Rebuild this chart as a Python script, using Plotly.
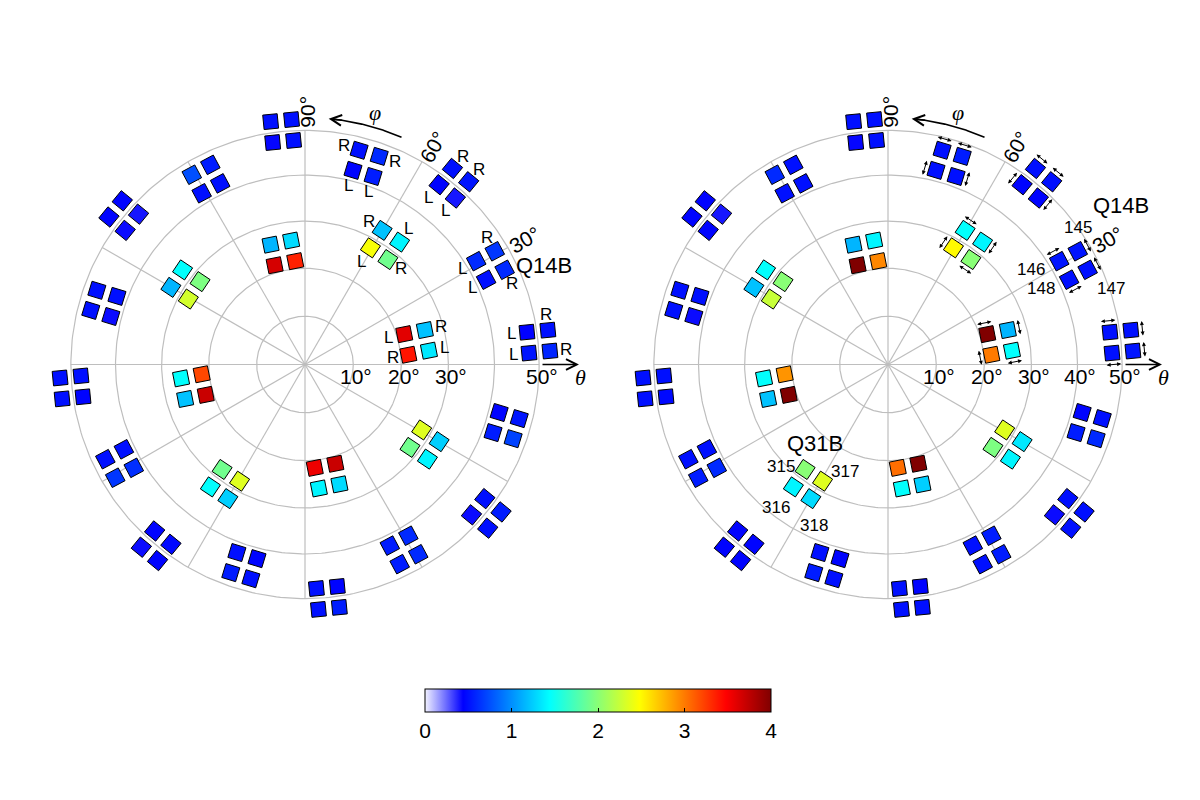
import numpy as np
import pandas as pd
import plotly.graph_objects as go

# ---------------- data ----------------
# module positions: polar angle theta and azimuth phi (degrees)
outer_phi = [5.6, 28.1, 50.6, 73.1, 95.6, 118.1, 140.6, 163.1,
             185.6, 208.1, 230.6, 253.1, 275.6, 298.1, 320.6, 343.1]
outer_theta = [50.1, 44.6, 50.1, 44.6, 50.1, 44.6, 50.1, 44.6,
               50.1, 44.6, 50.1, 44.6, 50.1, 44.6, 50.1, 44.6]
inner_phi = [11.2, 56.2, 101.2, 146.2, 191.2, 236.2, 281.2, 326.2]
inner_theta = [23.7, 30.1, 23.7, 30.1, 23.7, 30.1, 23.7, 30.1]

# square values per module, order: TL, TR, BL, BR
left_outer = [
    [0.44, 0.50, 0.52, 0.58], [0.60, 0.65, 0.50, 0.60], [0.50, 0.52, 0.45, 0.40], [0.50, 0.60, 0.45, 0.55],
    [0.50, 0.50, 0.43, 0.50], [0.75, 0.55, 0.50, 0.50], [0.45, 0.40, 0.45, 0.42], [0.50, 0.50, 0.50, 0.42],
    [0.50, 0.50, 0.50, 0.45], [0.50, 0.50, 0.65, 0.62], [0.45, 0.47, 0.42, 0.45], [0.50, 0.45, 0.55, 0.50],
    [0.50, 0.45, 0.50, 0.55], [0.55, 0.60, 0.55, 0.60], [0.50, 0.55, 0.42, 0.50], [0.45, 0.52, 0.55, 0.70],
]
left_inner = [
    [3.60, 1.20, 3.40, 1.35], [1.20, 1.40, 2.45, 1.90], [1.15, 1.30, 3.65, 3.35], [1.45, 1.95, 1.15, 2.30],
    [1.45, 3.20, 1.20, 3.70], [1.90, 2.35, 1.45, 1.25], [3.55, 3.70, 1.40, 1.30], [2.35, 1.25, 1.90, 1.40],
]
right_outer = [
    [0.50, 0.50, 0.50, 0.52], [0.52, 0.52, 0.50, 0.50], [0.50, 0.50, 0.45, 0.45], [0.50, 0.55, 0.50, 0.50],
    [0.50, 0.50, 0.43, 0.50], [0.60, 0.50, 0.50, 0.50], [0.45, 0.40, 0.45, 0.45], [0.50, 0.50, 0.50, 0.42],
    [0.50, 0.50, 0.50, 0.47], [0.50, 0.50, 0.55, 0.60], [0.45, 0.45, 0.45, 0.45], [0.50, 0.45, 0.55, 0.50],
    [0.50, 0.45, 0.50, 0.50], [0.50, 0.55, 0.50, 0.55], [0.50, 0.50, 0.42, 0.50], [0.45, 0.50, 0.55, 0.60],
]
right_inner = [
    [4.00, 1.15, 3.00, 1.45], [1.45, 1.40, 2.50, 2.00], [1.15, 1.40, 4.00, 2.95], [1.45, 2.00, 1.20, 2.25],
    [1.45, 2.90, 1.20, 4.00], [2.00, 2.35, 1.40, 1.30], [3.05, 4.00, 1.45, 1.25], [2.35, 1.35, 1.95, 1.40],
]

grid_circles = [10, 20, 30, 40, 50]
spokes = [0, 30, 60, 90, 120, 150, 180, 210, 240, 270, 300, 330]
left_ticks = [10, 20, 30, 50]
right_ticks = [10, 20, 30, 40, 50]
phi_ticks = [30, 60, 90]

# R / L readout side labels (left panel): ring, module, square, text, side
left_sides = [
    ('outer', 0, 'TL', 'L', 'W'), ('outer', 0, 'TR', 'R', 'N'), ('outer', 0, 'BL', 'L', 'W'), ('outer', 0, 'BR', 'R', 'E'),
    ('outer', 1, 'TL', 'L', 'W'), ('outer', 1, 'TR', 'R', 'N'), ('outer', 1, 'BL', 'L', 'W'), ('outer', 1, 'BR', 'R', 'S'),
    ('outer', 2, 'TL', 'R', 'N'), ('outer', 2, 'TR', 'R', 'N'), ('outer', 2, 'BL', 'L', 'S'), ('outer', 2, 'BR', 'L', 'S'),
    ('outer', 3, 'TL', 'R', 'W'), ('outer', 3, 'TR', 'R', 'E'), ('outer', 3, 'BL', 'L', 'S'), ('outer', 3, 'BR', 'L', 'S'),
    ('inner', 0, 'TL', 'L', 'W'), ('inner', 0, 'TR', 'R', 'E'), ('inner', 0, 'BL', 'R', 'W'), ('inner', 0, 'BR', 'L', 'E'),
    ('inner', 1, 'TL', 'R', 'W'), ('inner', 1, 'TR', 'L', 'N'), ('inner', 1, 'BL', 'L', 'S'), ('inner', 1, 'BR', 'R', 'E'),
]
# double arrows (right panel): ring, module, square, side
right_arrows = [
    ('outer', 0, 'TL', 'N'), ('outer', 0, 'TR', 'E'), ('outer', 0, 'BL', 'S'), ('outer', 0, 'BR', 'E'),
    ('outer', 1, 'TL', 'N'), ('outer', 1, 'TR', 'E'), ('outer', 1, 'BL', 'S'), ('outer', 1, 'BR', 'E'),
    ('outer', 2, 'TL', 'N'), ('outer', 2, 'TR', 'N'), ('outer', 2, 'BL', 'W'), ('outer', 2, 'BR', 'E'),
    ('outer', 3, 'TL', 'N'), ('outer', 3, 'TR', 'N'), ('outer', 3, 'BL', 'W'), ('outer', 3, 'BR', 'E'),
    ('inner', 0, 'TL', 'N'), ('inner', 0, 'TR', 'E'), ('inner', 0, 'BL', 'W'), ('inner', 0, 'BR', 'S'),
    ('inner', 1, 'TL', 'N'), ('inner', 1, 'TR', 'E'), ('inner', 1, 'BL', 'W'), ('inner', 1, 'BR', 'S'),
]
# module names / channel numbers: panel, ring, module, text, px offset (right, down), size
module_texts = [
    ('left', 'outer', 1, 'Q14B', 54, 0, 22),
    ('right', 'outer', 1, 'Q14B', 48, -60, 22),
    ('right', 'outer', 1, '145', 5, -38, 17),
    ('right', 'outer', 1, '146', -42, 4, 17),
    ('right', 'outer', 1, '148', -32, 23, 17),
    ('right', 'outer', 1, '147', 38, 23, 17),
    ('right', 'inner', 5, 'Q31B', 7, -41, 22),
    ('right', 'inner', 5, '315', -27, -18, 17),
    ('right', 'inner', 5, '317', 37, -13, 17),
    ('right', 'inner', 5, '316', -32, 23, 17),
    ('right', 'inner', 5, '318', 6, 41, 17),
]

# ---------------- geometry helpers ----------------
W, H = 1192, 792    # page body keeps an 8 px margin
K = 277.0           # pixels per projected unit
PX = 1.0 / K
HALF_GAP = 10.5 * PX
SQ_SIZE = 14.5
GRID = 'rgb(190,190,190)'
FONT = 'Liberation Sans, Arial, Helvetica, sans-serif'
SERIF = 'Liberation Serif, Times New Roman, serif'
CORNER = {'TL': (-1, 1), 'TR': (1, 1), 'BL': (-1, -1), 'BR': (1, -1)}
SIDE = {'N': (0, 1), 'S': (0, -1), 'E': (1, 0), 'W': (-1, 0)}

jet_white = [[0.0, 'rgb(242,242,255)'], [0.11, 'rgb(0,0,255)'], [0.36, 'rgb(0,255,255)'],
             [0.62, 'rgb(255,255,0)'], [0.87, 'rgb(255,0,0)'], [1.0, 'rgb(128,0,0)']]


def proj(theta, phi):
    # equal-area azimuthal projection
    r = 2 * np.sin(np.radians(theta) / 2)
    return r * np.cos(np.radians(phi)), r * np.sin(np.radians(phi))


def tilt(phi):
    return ((phi + 45) % 90) - 45


def turn(vx, vy, deg):
    a = np.radians(deg)
    return vx * np.cos(a) - vy * np.sin(a), vx * np.sin(a) + vy * np.cos(a)


def module_center(ring, i):
    if ring == 'outer':
        return proj(outer_theta[i], outer_phi[i]), tilt(outer_phi[i])
    return proj(inner_theta[i], inner_phi[i]), tilt(inner_phi[i])


def square_table(outer_vals, inner_vals):
    rows = []
    for ring, vals in (('outer', outer_vals), ('inner', inner_vals)):
        for i, v4 in enumerate(vals):
            (cx, cy), t = module_center(ring, i)
            for sq, v in zip(['TL', 'TR', 'BL', 'BR'], v4):
                ox, oy = turn(*CORNER[sq], t)
                rows.append(dict(ring=ring, i=i, sq=sq, x=cx + ox * HALF_GAP, y=cy + oy * HALF_GAP,
                                 tilt=t, value=v))
    return pd.DataFrame(rows)


def lookup(df, ring, i, sq):
    return df[(df.ring == ring) & (df.i == i) & (df.sq == sq)].iloc[0]


left_df = square_table(left_outer, left_inner)
right_df = square_table(right_outer, right_inner)

fig = go.Figure()
annotations = []

for panel, df, xa, ya, ticks in (('left', left_df, 'x', 'y', left_ticks),
                                 ('right', right_df, 'x2', 'y2', right_ticks)):
    # grid circles and spokes
    gx, gy = [], []
    ang = np.linspace(0, 360, 361)
    for th in grid_circles:
        cx, cy = proj(th, ang)
        gx += list(cx) + [None]
        gy += list(cy) + [None]
    for ph in spokes:
        ex, ey = proj(50, ph)
        gx += [0, ex, None]
        gy += [0, ey, None]
    fig.add_trace(go.Scatter(x=gx, y=gy, mode='lines', line=dict(color=GRID, width=1.2),
                             hoverinfo='skip', xaxis=xa, yaxis=ya))

    # phi arrow arc
    arc = np.linspace(67, 83.5, 40)
    ax_, ay_ = np.cos(np.radians(arc)) * 247 * PX, np.sin(np.radians(arc)) * 247 * PX
    fig.add_trace(go.Scatter(x=ax_, y=ay_, mode='lines', line=dict(color='black', width=1.6),
                             hoverinfo='skip', xaxis=xa, yaxis=ya))
    annotations.append(dict(xref=xa, yref=ya, axref=xa, ayref=ya, text='', showarrow=True,
                            x=np.cos(np.radians(84.5)) * 247 * PX, y=np.sin(np.radians(84.5)) * 247 * PX,
                            ax=np.cos(np.radians(81)) * 247 * PX, ay=np.sin(np.radians(81)) * 247 * PX,
                            arrowhead=5, arrowsize=1.4, arrowwidth=1.5, arrowcolor='black', standoff=0))
    annotations.append(dict(xref=xa, yref=ya, text='<i>φ</i>', showarrow=False,
                            x=np.cos(np.radians(74.5)) * 262 * PX, y=np.sin(np.radians(74.5)) * 262 * PX,
                            font=dict(family=SERIF, size=22, color='black')))

    # theta arrow
    annotations.append(dict(xref=xa, yref=ya, axref=xa, ayref=ya, text='', showarrow=True,
                            x=274 * PX, y=0, ax=236 * PX, ay=0,
                            arrowhead=5, arrowsize=1.4, arrowwidth=1.5, arrowcolor='black', standoff=0))
    annotations.append(dict(xref=xa, yref=ya, text='<i>θ</i>', showarrow=False,
                            x=275 * PX, y=0, yshift=-13, font=dict(family=SERIF, size=22, color='black')))

    # theta tick labels
    for th in ticks:
        r, _ = proj(th, 0)
        annotations.append(dict(xref=xa, yref=ya, text=f'{th}°', showarrow=False,
                                x=r, y=0, xshift=3, yshift=-12,
                                font=dict(family=FONT, size=21, color='black')))
    # phi tick labels
    for ph in phi_ticks:
        annotations.append(dict(xref=xa, yref=ya, text=f'{ph}°', showarrow=False, textangle=-ph,
                                x=np.cos(np.radians(ph - 0.5)) * 253 * PX,
                                y=np.sin(np.radians(ph - 0.5)) * 253 * PX,
                                font=dict(family=FONT, size=21, color='black')))

    # detector squares
    fig.add_trace(go.Scatter(
        x=df.x, y=df.y, mode='markers', xaxis=xa, yaxis=ya, hoverinfo='skip',
        marker=dict(symbol='square', size=SQ_SIZE, angle=-df.tilt, color=df.value,
                    colorscale=jet_white, cmin=0, cmax=4,
                    line=dict(color='black', width=1),
                    showscale=(panel == 'left'),
                    colorbar=dict(orientation='h', x=590 / W, xanchor='center', y=1 - 681 / H,
                                  yanchor='top', len=346, lenmode='pixels', thickness=23,
                                  outlinecolor='black', outlinewidth=1, xpad=0, ypad=0,
                                  tickvals=[0, 1, 2, 3, 4], ticks='inside', ticklen=4,
                                  tickcolor='black',
                                  tickfont=dict(family=FONT, size=21, color='black')))))

# R / L labels
for ring, i, sq, txt, side in left_sides:
    s = lookup(left_df, ring, i, sq)
    dx, dy = turn(*SIDE[side], s.tilt)
    annotations.append(dict(xref='x', yref='y', text=txt, showarrow=False,
                            x=s.x + dx * 16 * PX, y=s.y + dy * 16 * PX,
                            font=dict(family=FONT, size=17, color='black')))

# double arrows
for ring, i, sq, side in right_arrows:
    s = lookup(right_df, ring, i, sq)
    nx, ny = turn(*SIDE[side], s.tilt)
    px_, py_ = s.x + nx * 11.5 * PX, s.y + ny * 11.5 * PX
    tx, ty = -ny, nx
    annotations.append(dict(xref='x2', yref='y2', axref='x2', ayref='y2', text='', showarrow=True,
                            x=px_ + tx * 8 * PX, y=py_ + ty * 8 * PX,
                            ax=px_ - tx * 8 * PX, ay=py_ - ty * 8 * PX,
                            arrowhead=2, arrowside='end+start', arrowsize=0.8, arrowwidth=1,
                            arrowcolor='black', standoff=0, startstandoff=0))

# module names and channel numbers
for panel, ring, i, txt, ox, oy, size in module_texts:
    (cx, cy), _ = module_center(ring, i)
    xa, ya = ('x', 'y') if panel == 'left' else ('x2', 'y2')
    annotations.append(dict(xref=xa, yref=ya, text=txt, showarrow=False, x=cx, y=cy,
                            xshift=ox, yshift=-oy, font=dict(family=FONT, size=size, color='black')))

# plot centres in page pixels: left (297, 356.5), right (880, 356.5)
hidden = dict(visible=False, showgrid=False, zeroline=False)
fig.update_layout(
    width=W, height=H, margin=dict(l=0, r=0, t=0, b=0, autoexpand=False),
    paper_bgcolor='white', plot_bgcolor='white', showlegend=False,
    xaxis=dict(domain=[0, 0.5], range=[-297 * PX, 299 * PX], **hidden),
    yaxis=dict(domain=[0, 1], range=[-435.5 * PX, 356.5 * PX], **hidden),
    xaxis2=dict(domain=[0.5, 1], range=[-284 * PX, 312 * PX], **hidden),
    yaxis2=dict(domain=[0, 1], range=[-435.5 * PX, 356.5 * PX], anchor='x2', **hidden),
    annotations=annotations,
)

fig.write_html("out.html")
